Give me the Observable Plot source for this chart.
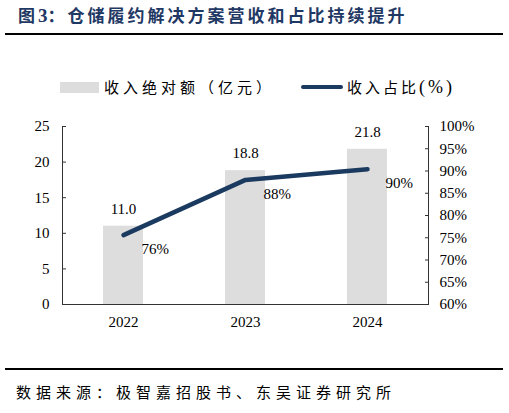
<!DOCTYPE html>
<html><head><meta charset="utf-8">
<script src="https://cdn.jsdelivr.net/npm/d3@7"></script>
<script src="https://cdn.jsdelivr.net/npm/@observablehq/plot@0.6"></script>
<style>
body{margin:0;background:#fff;}
#wrap{position:relative;width:509px;height:413px;overflow:hidden;font-family:"Liberation Serif","Noto Sans CJK SC",serif;color:#000;}
.abs{position:absolute;white-space:nowrap;}
#title{left:18px;top:4px;font-size:17px;font-weight:bold;color:#1F3864;letter-spacing:3px;font-family:"Noto Sans CJK SC",sans-serif;line-height:22px;}
#title .n{font-family:"Liberation Serif",serif;font-size:19px;letter-spacing:0;}
.rule{left:5px;width:498px;height:2px;background:#000;}
#src{left:16px;top:381px;font-size:15px;letter-spacing:5px;font-family:"Noto Sans CJK SC",sans-serif;line-height:22px;}
.leg{font-size:15px;font-family:"Noto Sans CJK SC",sans-serif;line-height:20px;top:77px;}
#plot{position:absolute;left:0;top:100px;}
#plot text{font-family:"Liberation Serif",serif;}
</style></head>
<body><div id="wrap">
<div id="title" class="abs">图<span class="n">3</span>：仓储履约解决方案营收和占比持续提升</div>
<div class="abs rule" style="top:33px"></div>
<div class="abs" style="left:60px;top:82px;width:39px;height:11px;background:#DDDDDD"></div>
<div class="abs leg" style="left:104px;letter-spacing:4px">收入绝对额（亿元）</div>
<div class="abs" style="left:301px;top:85px;width:42px;height:4px;border-radius:2px;background:#1B3A5F"></div>
<div class="abs leg" style="left:347px;letter-spacing:3px">收入占比<span style="font-family:'Liberation Serif',serif;letter-spacing:3px;font-size:18px">(%)</span></div>
<div id="plot"></div>
<div class="abs rule" style="top:368px"></div>
<div id="src" class="abs">数据来源：极智嘉招股书、东吴证券研究所</div>
</div>
<script>
const years = ["2022","2023","2024"];
const revenue = [11.0, 18.8, 21.8];
const share = [75.6, 88.0, 90.4];
const shareLabels = ["76%","88%","90%"];
const leftTicks = [0,5,10,15,20,25];
const rightTicks = [60,65,70,75,80,85,90,95,100];

const pMin = 60, pMax = 100, yMax = 25;
const toY = p => (p - pMin) / (pMax - pMin) * yMax;
const fromY = v => Math.round(v / yMax * (pMax - pMin) + pMin);

const data = years.map((y,i)=>({year:y, rev:revenue[i], pct:share[i], pctY:toY(share[i]), pl:shareLabels[i]}));
const font = "'Liberation Serif', serif";
const chart = Plot.plot({
  width: 509, height: 230,
  marginTop: 26, marginBottom: 26, marginLeft: 62, marginRight: 81,
  style: {fontFamily: font, fontSize: "15px", color: "#000", background: "transparent"},
  x: {domain: years, padding: 0, label: null},
  y: {domain: [0, yMax], label: null},
  marks: [
    Plot.barY(data, {x: "year", y: "rev", fill: "#DDDDDD", inset: 0, insetLeft: 41, insetRight: 41}),
    Plot.axisY({anchor: "left", ticks: leftTicks, tickSize: -4, tickPadding: 17, stroke: "#333", label: null, fontSize: 15, fontFamily: font}),
    Plot.axisY({anchor: "right", ticks: rightTicks.map(toY), tickFormat: v => fromY(v) + "%", tickSize: -4, tickPadding: 15, stroke: "#333", label: null, fontSize: 15, fontFamily: font}),
    Plot.axisX({tickSize: 0, tickPadding: 12, label: null, fontSize: 15, fontFamily: font}),
    Plot.frame({anchor: "left", stroke: "#333"}),
    Plot.frame({anchor: "right", stroke: "#333"}),
    Plot.ruleY([0], {stroke: "#333"}),
    Plot.lineY(data, {x: "year", y: "pctY", stroke: "#1B3A5F", strokeWidth: 4.5, strokeLinecap: "round", strokeLinejoin: "round"}),
    Plot.text(data, {x: "year", y: "rev", text: d => d.rev.toFixed(1), dy: -17, fontSize: 15, fontFamily: font}),
    Plot.text(data, {x: "year", y: "pctY", text: "pl", dx: 18, dy: 14, textAnchor: "start", fontSize: 15, fontFamily: font})
  ]
});
document.getElementById("plot").appendChild(chart);
</script>
</body></html>
